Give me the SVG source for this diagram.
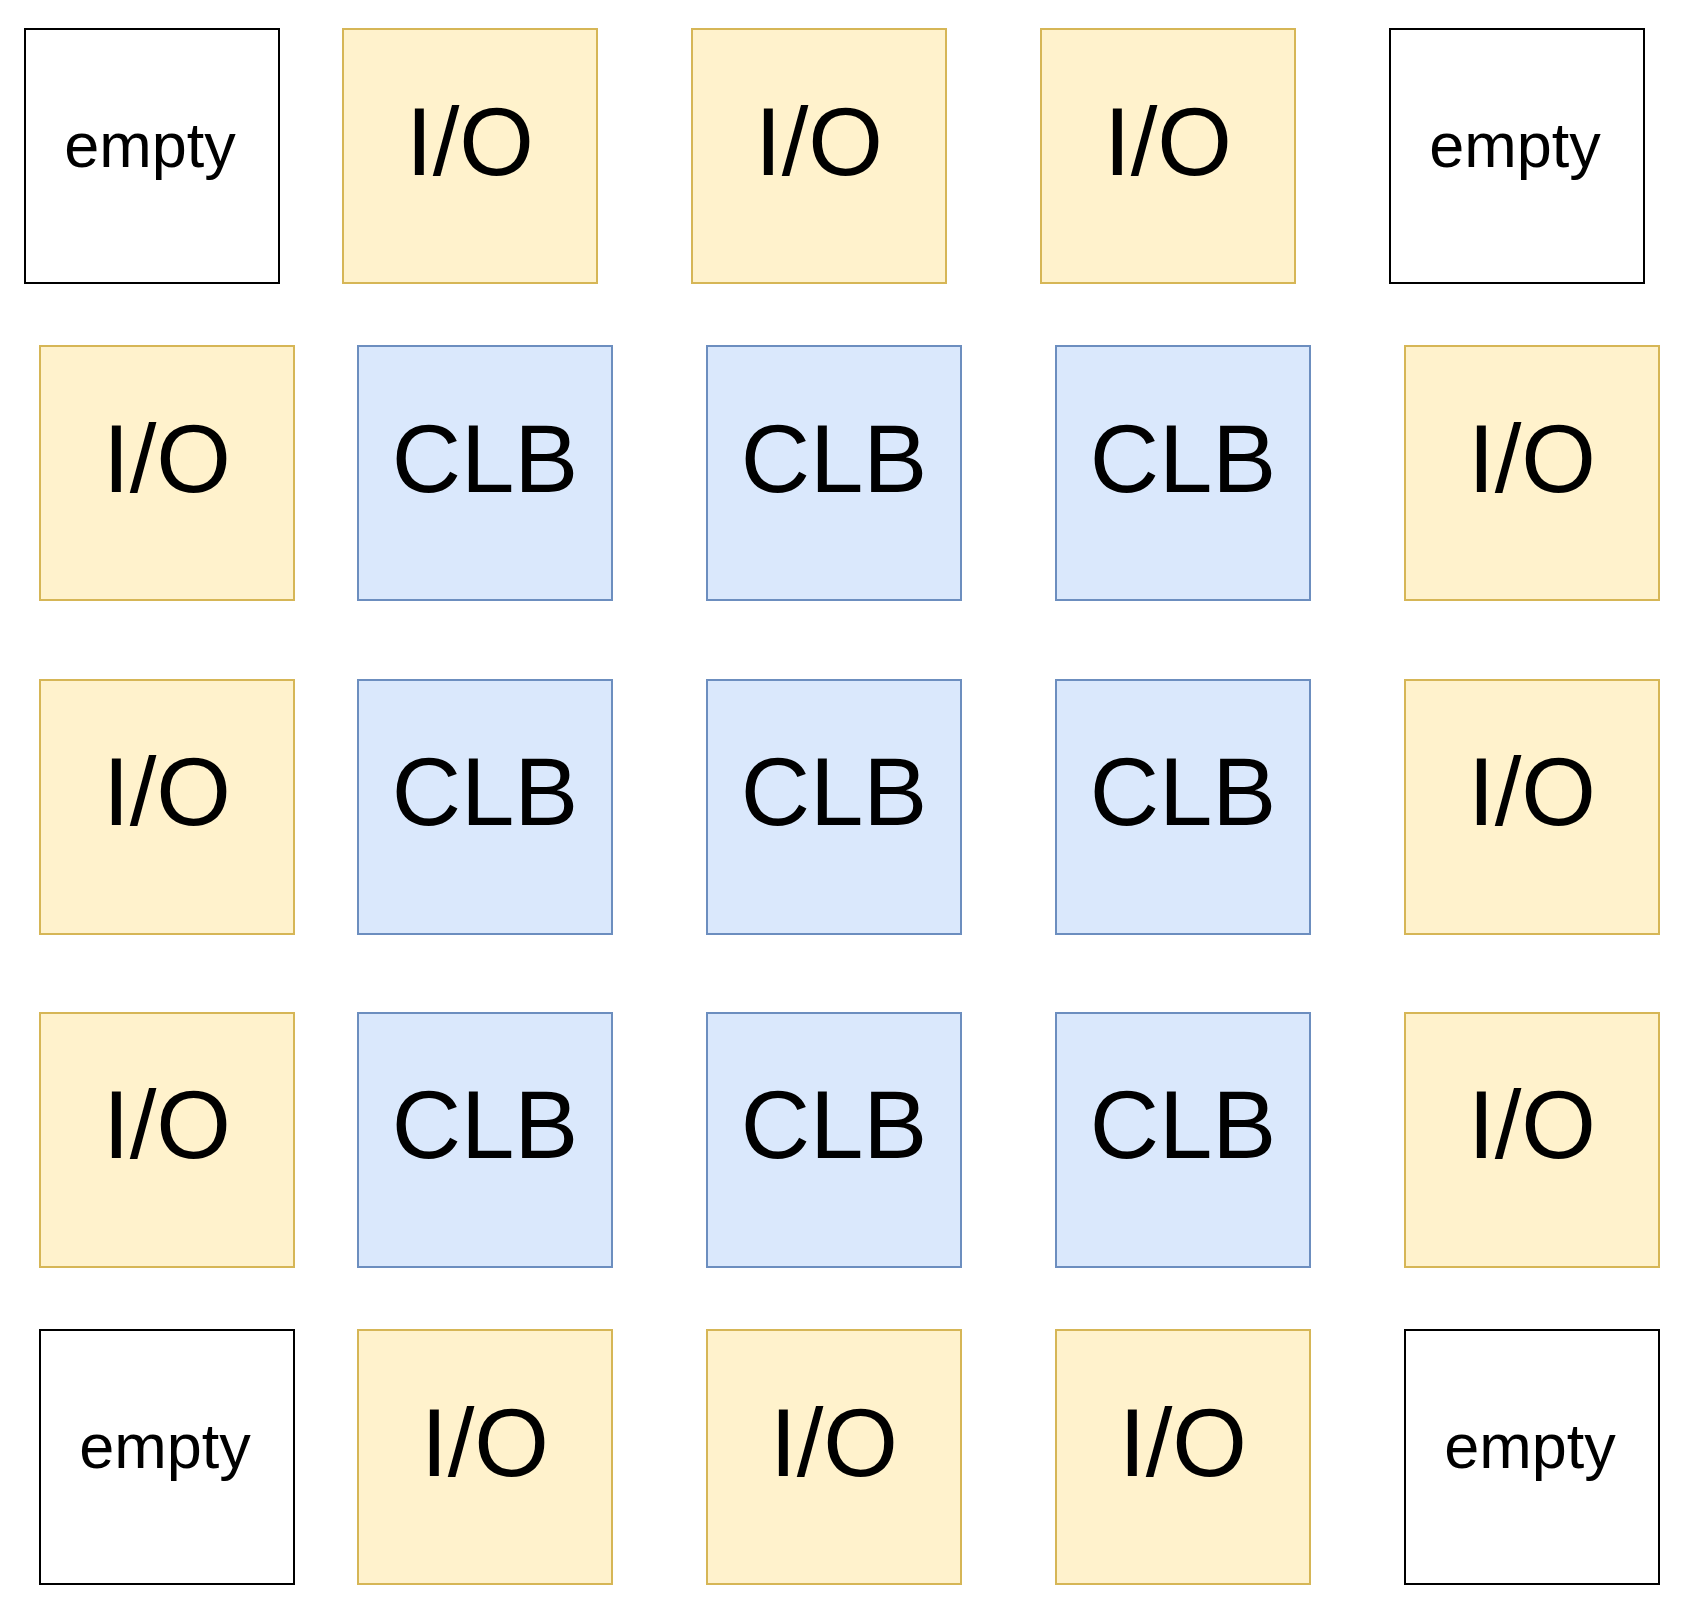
<svg xmlns="http://www.w3.org/2000/svg" width="1688" height="1612" viewBox="0 0 1688 1612">
<style>
.box{stroke-width:2}
.e{fill:#ffffff;stroke:#000000}
.io{fill:#fff2cc;stroke:#d6b656}
.clb{fill:#dae8fc;stroke:#6c8ebf}
text{font-family:"Liberation Sans",Arial,Helvetica,sans-serif;fill:#000;text-anchor:middle}
.big{font-size:96px}
.sm{font-size:63px}
</style>
<rect width="1688" height="1612" fill="#ffffff"/>
<g id="connectors"></g>
<!-- Row 0 -->
<g id="n00"><rect class="box e" x="25" y="29" width="254" height="254"/><text class="sm" x="150" y="167">empty</text></g>
<g id="n01"><rect class="box io" x="343" y="29" width="254" height="254"/><text class="big" x="470" y="175">I/O</text></g>
<g id="n02"><rect class="box io" x="692" y="29" width="254" height="254"/><text class="big" x="819" y="175">I/O</text></g>
<g id="n03"><rect class="box io" x="1041" y="29" width="254" height="254"/><text class="big" x="1168" y="175">I/O</text></g>
<g id="n04"><rect class="box e" x="1390" y="29" width="254" height="254"/><text class="sm" x="1515" y="167">empty</text></g>
<!-- Row 1 -->
<g id="n10"><rect class="box io" x="40" y="346" width="254" height="254"/><text class="big" x="167" y="492">I/O</text></g>
<g id="n11"><rect class="box clb" x="358" y="346" width="254" height="254"/><text class="big" x="485" y="492">CLB</text></g>
<g id="n12"><rect class="box clb" x="707" y="346" width="254" height="254"/><text class="big" x="834" y="492">CLB</text></g>
<g id="n13"><rect class="box clb" x="1056" y="346" width="254" height="254"/><text class="big" x="1183" y="492">CLB</text></g>
<g id="n14"><rect class="box io" x="1405" y="346" width="254" height="254"/><text class="big" x="1532" y="492">I/O</text></g>
<!-- Row 2 -->
<g id="n20"><rect class="box io" x="40" y="680" width="254" height="254"/><text class="big" x="167" y="825">I/O</text></g>
<g id="n21"><rect class="box clb" x="358" y="680" width="254" height="254"/><text class="big" x="485" y="825">CLB</text></g>
<g id="n22"><rect class="box clb" x="707" y="680" width="254" height="254"/><text class="big" x="834" y="825">CLB</text></g>
<g id="n23"><rect class="box clb" x="1056" y="680" width="254" height="254"/><text class="big" x="1183" y="825">CLB</text></g>
<g id="n24"><rect class="box io" x="1405" y="680" width="254" height="254"/><text class="big" x="1532" y="825">I/O</text></g>
<!-- Row 3 -->
<g id="n30"><rect class="box io" x="40" y="1013" width="254" height="254"/><text class="big" x="167" y="1158">I/O</text></g>
<g id="n31"><rect class="box clb" x="358" y="1013" width="254" height="254"/><text class="big" x="485" y="1158">CLB</text></g>
<g id="n32"><rect class="box clb" x="707" y="1013" width="254" height="254"/><text class="big" x="834" y="1158">CLB</text></g>
<g id="n33"><rect class="box clb" x="1056" y="1013" width="254" height="254"/><text class="big" x="1183" y="1158">CLB</text></g>
<g id="n34"><rect class="box io" x="1405" y="1013" width="254" height="254"/><text class="big" x="1532" y="1158">I/O</text></g>
<!-- Row 4 -->
<g id="n40"><rect class="box e" x="40" y="1330" width="254" height="254"/><text class="sm" x="165" y="1468">empty</text></g>
<g id="n41"><rect class="box io" x="358" y="1330" width="254" height="254"/><text class="big" x="485" y="1476">I/O</text></g>
<g id="n42"><rect class="box io" x="707" y="1330" width="254" height="254"/><text class="big" x="834" y="1476">I/O</text></g>
<g id="n43"><rect class="box io" x="1056" y="1330" width="254" height="254"/><text class="big" x="1183" y="1476">I/O</text></g>
<g id="n44"><rect class="box e" x="1405" y="1330" width="254" height="254"/><text class="sm" x="1530" y="1468">empty</text></g>
</svg>
